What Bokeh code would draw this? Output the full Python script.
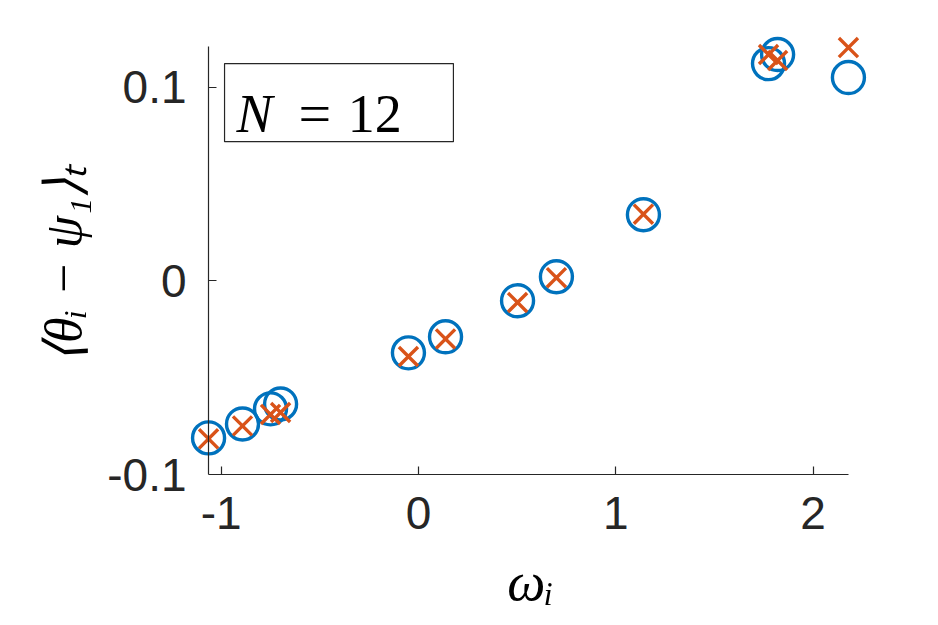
from bokeh.plotting import figure
from bokeh.models import (Range1d, Label, BoxAnnotation, FixedTicker, LinearAxis,
                          CustomLabelingPolicy)
from bokeh.embed import file_html
from bokeh.resources import INLINE

# data
omega = [-1.064, -0.892, -0.750, -0.699, -0.051, 0.137, 0.502, 0.699, 1.140, 1.774, 1.820, 2.179]
circ_vals = [-0.0811, -0.0739, -0.0661, -0.0636, -0.0372, -0.0289, -0.0103, 0.0021, 0.0341, 0.1121, 0.1168, 0.1049]
cross_vals = [-0.0816, -0.0749, -0.0690, -0.0680, -0.0391, -0.0300, -0.0112, 0.0016, 0.0344, 0.1168, 0.1137, 0.1204]
x_ticks = [-1, 0, 1, 2]
x_tick_labels = ["-1", "0", "1", "2"]
y_ticks = [-0.1, 0, 0.1]
y_tick_labels = ["-0.1", "0", "0.1"]

FG = "#262626"

p = figure(width=920, height=620, output_backend="svg", toolbar_location=None,
           x_range=Range1d(-1.1657, 2.301), y_range=Range1d(-0.1, 0.13023),
           min_border_left=188, min_border_right=48, min_border_top=28,
           min_border_bottom=146)
p.background_fill_color = "white"
p.border_fill_color = "white"
p.outline_line_color = None
p.xgrid.visible = False
p.ygrid.visible = False

xa = p.xaxis[0]
ya = p.yaxis[0]
xa.ticker = FixedTicker(ticks=x_ticks)
ya.ticker = FixedTicker(ticks=y_ticks)
xa.major_label_overrides = {t: s for t, s in zip(x_ticks, x_tick_labels)}
ya.major_label_overrides = {t: s for t, s in zip(y_ticks, y_tick_labels)}
xa.bounds = (-1.066, 2.177)

for ax in (xa, ya):
    ax.minor_tick_in = 0
    ax.minor_tick_out = 0
    ax.major_label_text_font = "Liberation Sans"
    ax.major_label_text_font_size = "46px"
    ax.major_label_text_color = FG
    ax.axis_label_text_font = "Liberation Serif"
    ax.axis_label_text_font_style = "italic"
    ax.axis_label_text_color = "black"

# x axis: regular, at frame bottom
xa.major_tick_in = 8
xa.major_tick_out = 0
xa.axis_line_color = FG
xa.axis_line_width = 1.2
xa.major_tick_line_color = FG
xa.major_tick_line_width = 1.2
xa.major_label_standoff = 22
xa.axis_label = "ωᵢ"
xa.axis_label_text_font_size = "54px"
xa.axis_label_standoff = 20

# y axis at frame edge: labels only
ya.axis_line_color = None
ya.major_tick_line_color = None
ya.minor_tick_line_color = None
ya.major_tick_in = 0
ya.major_tick_out = 0
ya.major_label_standoff = 2
ya.axis_label = "⟨θᵢ  −  ψ₁⟩ₜ"
ya.axis_label_text_font_size = "52px"
ya.axis_label_standoff = 12

# y axis line and ticks at x = -1.066 (no labels)
ya_line = LinearAxis(ticker=FixedTicker(ticks=y_ticks), fixed_location=-1.066,
                     bounds=(-0.1, 0.1207), major_tick_in=8, major_tick_out=0,
                     minor_tick_in=0, minor_tick_out=0,
                     major_label_policy=CustomLabelingPolicy(
                         code="for (const i of indices) { indices.unset(i) } return indices"),
                     axis_line_color=FG, axis_line_width=1.2,
                     major_tick_line_color=FG, major_tick_line_width=1.2)
p.add_layout(ya_line, "left")

p.scatter(omega, circ_vals, marker="circle", size=32, fill_color=None,
          line_color="#0072BD", line_width=3.4)
p.scatter(omega, cross_vals, marker="x", size=27,
          line_color="#D95319", line_width=3.4)

box = BoxAnnotation(left=-0.983, right=0.177, top=0.1121, bottom=0.0718,
                    fill_color="white", fill_alpha=1.0, line_color=FG, line_alpha=1.0,
                    line_width=1.2, level="overlay")
p.add_layout(box)
p.add_layout(Label(x=-0.922, y=0.0863, text="N", text_font="Liberation Serif",
                   text_font_style="italic", text_font_size="54px", text_color="black",
                   text_baseline="alphabetic", text_align="left", level="overlay"))
p.add_layout(Label(x=-0.608, y=0.0863, text="=", text_font="Liberation Serif",
                   text_font_size="58px", text_color="black",
                   text_baseline="alphabetic", text_align="left", level="overlay"))
p.add_layout(Label(x=-0.358, y=0.0863, text="12", text_font="Liberation Serif",
                   text_font_size="54px", text_color="black",
                   text_baseline="alphabetic", text_align="left", level="overlay"))

open("out.html", "w").write(file_html(p, INLINE))
